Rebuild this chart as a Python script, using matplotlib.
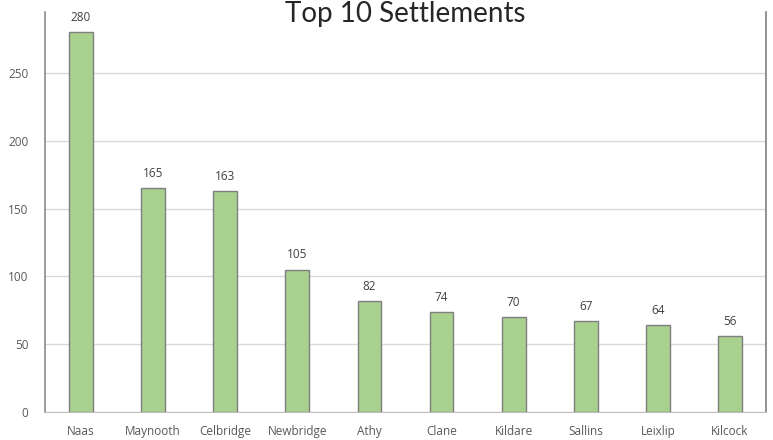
import matplotlib.pyplot as plt

settlements = ["Naas", "Maynooth", "Celbridge", "Newbridge", "Athy",
               "Clane", "Kildare", "Sallins", "Leixlip", "Kilcock"]
counts = [280, 165, 163, 105, 82, 74, 70, 67, 64, 56]
yticks = [0, 50, 100, 150, 200, 250]

plt.rcParams["font.family"] = ["Open Sans", "DejaVu Sans"]

fig = plt.figure(figsize=(7.73, 4.4), dpi=100)
ax = fig.add_axes([45/773, 28/440, 721/773, 400/440])

x = range(len(settlements))
bars = ax.bar(x, counts, width=0.33, color="#A9D18E", edgecolor="#7F7F7F", linewidth=1.0, zorder=3)

for xi, v in zip(x, counts):
    ax.text(xi, v + 6, str(v), ha="center", va="bottom", fontsize=8.5, color="#404040")

ax.set_xlim(-0.5, len(settlements) - 0.5)
ax.set_ylim(0, 295)
ax.set_yticks(yticks)
ax.set_xticks(list(x))
ax.set_xticklabels(settlements)
ax.yaxis.grid(True, color="#D9D9D9", linewidth=1.0, zorder=0)
ax.tick_params(axis="both", length=0, labelsize=8.5, labelcolor="#595959")
ax.tick_params(axis="x", pad=9)
ax.tick_params(axis="y", pad=12)

ax.spines["top"].set_visible(False)
ax.spines["left"].set_color("#8C8C8C")
ax.spines["right"].set_color("#7F7F7F")
ax.spines["bottom"].set_color("#BFBFBF")
ax.spines["left"].set_linewidth(1.2)
ax.spines["right"].set_linewidth(1.2)

fig.text(405/773, 1 - 14/440, "Top 10 Settlements", ha="center", va="center",
         fontsize=20, color="#262626", fontweight="normal", family=["Lato", "DejaVu Sans"])

fig.savefig("out.png", dpi=100)
